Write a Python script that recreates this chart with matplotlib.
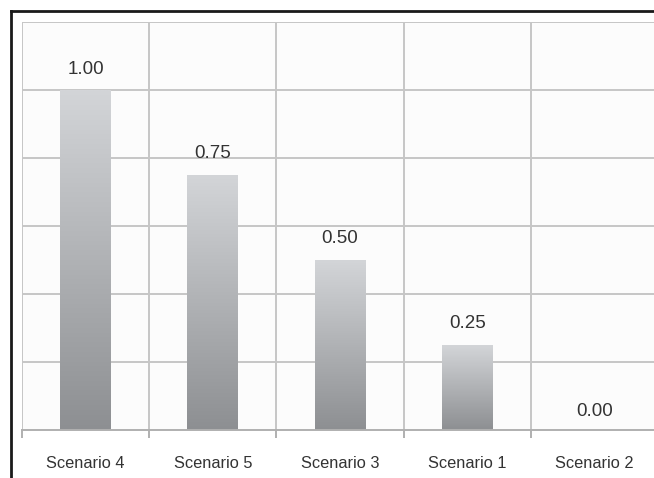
import numpy as np
import matplotlib.pyplot as plt
from matplotlib.colors import LinearSegmentedColormap
from matplotlib.lines import Line2D

plt.rcParams["font.family"] = ["Liberation Sans", "DejaVu Sans"]

scenarios = ["Scenario 4", "Scenario 5", "Scenario 3", "Scenario 1", "Scenario 2"]
scores = [1.00, 0.75, 0.50, 0.25, 0.00]
value_labels = ["1.00", "0.75", "0.50", "0.25", "0.00"]

W, H = 654, 478
fig = plt.figure(figsize=(W / 100, H / 100), dpi=100)
fig.patch.set_facecolor("white")
ax = fig.add_axes([22 / W, 1 - 430 / H, 636 / W, 408 / H])
ax.set_facecolor("#fcfcfc")

grid_c = "#c6c6c6"
ax.set_xlim(-0.5, len(scenarios) - 0.5)
ax.set_ylim(0, 1.2)

# horizontal grid
for y in np.arange(0.2, 1.21, 0.2):
    ax.axhline(y, color=grid_c, lw=1.4, zorder=0)
# vertical grid at category boundaries
for xb in np.arange(-0.5, len(scenarios) - 0.4, 1):
    ax.axvline(xb, color=grid_c, lw=1.4, zorder=0)

# gradient bars: light at top, darker at bottom
cmap = LinearSegmentedColormap.from_list("g", ["#8d8f92", "#d3d5d8"])
grad = np.linspace(0, 1, 256).reshape(-1, 1)
bw = 0.4
for i, v in enumerate(scores):
    if v > 0:
        ax.imshow(grad, cmap=cmap, origin="lower", aspect="auto",
                  extent=(i - bw / 2, i + bw / 2, 0, v), zorder=2)
    ax.annotate(value_labels[i], (i, v), xytext=(0, 9 if v > 0 else 7),
                textcoords="offset points", ha="center", va="bottom",
                fontsize=13.5, color="#333333")
ax.set_xlim(-0.5, len(scenarios) - 0.5)
ax.set_ylim(0, 1.2)

for s in ["top", "right", "left"]:
    ax.spines[s].set_visible(False)
ax.spines["bottom"].set_color("#b0b0b0")
ax.spines["bottom"].set_linewidth(1.4)
ax.set_yticks([])
ax.set_xticks(np.arange(-0.5, len(scenarios) - 0.4, 1))
ax.set_xticklabels([])
ax.set_xticks(np.arange(len(scenarios)), minor=True)
ax.set_xticklabels(scenarios, minor=True, fontsize=11.8, color="#333333")
ax.tick_params(axis="x", which="major", length=6, color="#b0b0b0", width=1.4)
ax.tick_params(axis="x", which="minor", length=0, pad=19)

# outer frame (only left and top visible in the crop)
fig.add_artist(Line2D([11 / W, 11 / W], [0, 1 - 11 / H], color="#1a1a1a", lw=2))
fig.add_artist(Line2D([11 / W, 1], [1 - 11 / H, 1 - 11 / H], color="#1a1a1a", lw=2))

fig.savefig("out.png", dpi=100)
